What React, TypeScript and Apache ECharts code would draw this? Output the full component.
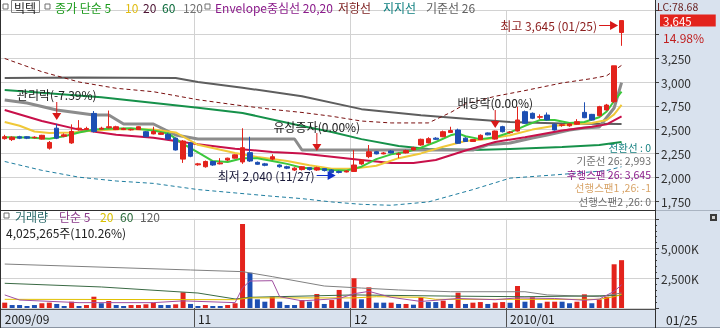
import React, { useEffect, useRef } from "react";
import * as echarts from "echarts";

// ---------- data ----------
const DATES = [
  "09/24","09/25","09/28","09/29","09/30",
  "10/01","10/05","10/06","10/07","10/08","10/09","10/12","10/13","10/14","10/15","10/16","10/19","10/20","10/21","10/22","10/23","10/26","10/27","10/28","10/29","10/30",
  "11/02","11/03","11/04","11/05","11/06","11/09","11/10","11/11","11/12","11/13","11/16","11/17","11/18","11/19","11/20","11/23","11/24","11/25","11/26","11/27","11/30",
  "12/01","12/02","12/03","12/04","12/07","12/08","12/09","12/10","12/11","12/14","12/15","12/16","12/17","12/18","12/21","12/22","12/23","12/24","12/28","12/29","12/30",
  "01/04","01/05","01/06","01/07","01/08","01/11","01/12","01/13","01/14","01/15","01/18","01/19","01/20","01/21","01/22","01/25",
];

const OPEN = [2405,2395,2425,2425,2415,2400,2305,2515,2430,2360,2500,2500,2670,2505,2520,2500,2500,2497,2500,2478,2455,2450,2450,2410,2190,2360,
  2130,2110,2165,2140,2180,2200,2160,2258,2156,2140,2190,2128,2110,2075,2080,2100,2075,2090,2076,2060,2055,
  2060,2139,2216,2268,2245,2275,2240,2255,2286,2338,2360,2410,2425,2470,2496,2410,2375,2395,2465,2400,2531,
  2468,2485,2688,2671,2630,2653,2556,2545,2540,2556,2681,2660,2646,2706,2793,3520];
const CLOSE = [2425,2420,2410,2410,2420,2440,2365,2410,2445,2480,2515,2512,2480,2515,2530,2530,2512,2503,2530,2425,2480,2465,2400,2286,2380,2220,
  2140,2165,2128,2150,2200,2235,2310,2170,2136,2125,2215,2110,2095,2095,2110,2080,2100,2070,2050,2050,2065,
  2128,2181,2268,2245,2255,2255,2245,2280,2310,2398,2405,2398,2478,2490,2356,2375,2395,2440,2445,2485,2478,
  2475,2601,2566,2619,2636,2601,2496,2550,2560,2583,2625,2601,2741,2758,3170,3645];
const LOW = [2395,2380,2400,2400,2405,2395,2290,2400,2420,2350,2490,2495,2470,2500,2510,2495,2495,2490,2495,2420,2450,2445,2390,2280,2150,2210,
  2120,2100,2120,2135,2170,2195,2140,2160,2130,2115,2180,2100,2085,2065,2070,2070,2065,2060,2045,2040,2050,
  2055,2130,2200,2240,2240,2250,2200,2250,2280,2330,2355,2390,2420,2465,2350,2370,2370,2390,2440,2395,2470,
  2460,2480,2560,2610,2610,2595,2490,2530,2530,2550,2620,2595,2640,2700,2780,3380];
const HIGH = [2445,2430,2435,2430,2430,2445,2380,2560,2460,2555,2600,2530,2695,2530,2700,2540,2520,2510,2535,2485,2530,2470,2465,2415,2390,2365,
  2150,2175,2170,2200,2205,2240,2514,2425,2165,2150,2240,2135,2120,2105,2115,2105,2110,2095,2085,2070,2075,
  2286,2190,2338,2275,2265,2285,2260,2290,2320,2405,2420,2420,2490,2530,2510,2420,2400,2450,2470,2490,2540,
  2485,2741,2700,2680,2660,2680,2565,2560,2565,2610,2787,2665,2750,2770,3170,3645];

const VOLUME = [450e3,250e3,250e3,170e3,250e3,400e3,450e3,340e3,170e3,530e3,170e3,250e3,950e3,400e3,590e3,250e3,170e3,250e3,250e3,310e3,450e3,250e3,250e3,310e3,1320e3,340e3,
  170e3,250e3,170e3,170e3,250e3,400e3,7070e3,2970e3,730e3,530e3,950e3,530e3,250e3,250e3,670e3,530e3,1180e3,340e3,670e3,1520e3,530e3,
  2500e3,730e3,1740e3,450e3,450e3,450e3,340e3,340e3,280e3,900e3,500e3,500e3,620e3,340e3,1290e3,340e3,450e3,500e3,340e3,450e3,500e3,
  450e3,1850e3,530e3,900e3,400e3,530e3,530e3,530e3,400e3,530e3,1150e3,400e3,730e3,950e3,3680e3,4025265];
const VOL_UP = [1,0,0,0,0,1,1,0,0,1,0,1,1,0,1,0,0,1,1,1,1,0,0,1,1,0,
  0,1,0,0,1,1,1,0,0,0,1,0,0,0,1,0,1,0,1,1,0,
  1,0,1,0,0,1,0,1,0,1,0,0,1,0,1,0,1,1,0,1,1,
  0,1,0,1,0,1,1,0,0,1,1,0,1,1,1,1];

// moving-average / indicator lines: [slot index, value] points
const MA5_PTS = [[0,2420],[3,2418],[6,2405],[8,2430],[10,2470],[12,2500],[14,2510],[17,2515],[20,2490],[22,2460],[24,2350],[26,2260],[28,2170],[30,2160],[32,2200],[34,2200],[36,2170],[38,2140],[40,2100],[42,2090],[44,2075],[46,2070],[48,2110],[50,2190],[52,2240],[54,2265],[56,2310],[58,2370],[60,2440],[61,2460],[62,2430],[64,2400],[66,2420],[68,2470],[70,2540],[72,2600],[74,2600],[76,2570],[78,2580],[80,2630],[81,2690],[82,2800],[83,2900]];
const MA10_PTS = [[0,2580],[2,2540],[4,2480],[6,2465],[9,2470],[12,2490],[16,2505],[20,2500],[23,2470],[26,2340],[31,2255],[34,2212],[38,2170],[41,2125],[44,2090],[47,2090],[50,2120],[53,2200],[56,2250],[59,2320],[62,2380],[65,2400],[68,2440],[71,2500],[74,2540],[77,2560],[79,2570],[81,2600],[82,2660],[83,2760]];
const MA20_PTS = [[0,2706],[5,2590],[10,2500],[15,2445],[20,2415],[26,2345],[31,2300],[36,2265],[40,2250],[44,2215],[48,2180],[52,2150],[55,2150],[58,2180],[62,2280],[66,2370],[70,2420],[75,2490],[79,2530],[81,2555],[83,2640]];
const MA60_PTS = [[0,2916],[13,2840],[26,2730],[32,2675],[40,2538],[44,2475],[48,2400],[53,2328],[57,2296],[63,2286],[68,2296],[75,2317],[80,2338],[83,2370]];
const MA120_PTS = [[0,3042],[10,3048],[23,3042],[26,3000],[32,2940],[40,2850],[48,2715],[56,2650],[62,2615],[68,2580],[75,2565],[83,2560]];
const ENV_UP_PTS = [[0,3247],[5,3108],[10,3000],[15,2934],[20,2898],[26,2814],[31,2760],[36,2712],[40,2680],[44,2640],[48,2590],[52,2570],[57,2570],[60,2680],[62,2770],[66,2850],[70,2910],[75,2990],[79,3036],[81,3066],[83,3175]];
const ENV_DN_PTS = [[0,2165],[5,2072],[10,2000],[15,1960],[20,1935],[26,1870],[31,1835],[36,1800],[40,1775],[44,1740],[48,1715],[52,1705],[57,1740],[63,1870],[68,1990],[75,2030],[81,2070],[83,2110]];
const KIJUN_PTS = [[0,2811],[3,2780],[7,2706],[12,2653],[14,2653],[16,2559],[20,2559],[23,2443],[26,2401],[39,2401],[40,2286],[63,2286],[65,2340],[68,2360],[71,2412],[73,2443],[76,2496],[78,2517],[80,2527],[82,2727],[83,2993]];

const VMA5_PTS = [[0,1100e3],[2,670e3],[10,450e3],[20,450e3],[24,600e3],[31,450e3],[32,1700e3],[33,2270e3],[36,2300e3],[37,950e3],[40,600e3],[45,800e3],[47,1200e3],[49,1400e3],[52,900e3],[56,550e3],[61,800e3],[66,700e3],[69,850e3],[74,800e3],[78,650e3],[80,750e3],[82,1400e3],[83,1950e3]];
const VMA20_PTS = [[0,730e3],[31,700e3],[33,850e3],[47,850e3],[50,950e3],[56,900e3],[58,730e3],[80,730e3],[82,950e3],[83,1150e3]];
const VMA60_PTS = [[0,2080e3],[13,1770e3],[26,1260e3],[31,760e3],[33,900e3],[40,1000e3],[47,1100e3],[60,1000e3],[70,950e3],[83,1050e3]];
const VMA120_PTS = [[0,3700e3],[25,3200e3],[32,3060e3],[36,2640e3],[43,1850e3],[48,1680e3],[53,1520e3],[60,1370e3],[70,1370e3],[73,1100e3],[80,950e3],[83,1260e3]];

const EVENTS = [
  { date: "10/06", value: 2601, label: "관리락(-7.39%)" },
  { date: "11/24", value: 2275, label: "유상증자(0.00%)" },
  { date: "12/29", value: 2517, label: "배당락(0.00%)" },
];
const LOW_MARK = { date: "11/27", value: 2040, label: "최저 2,040 (11/27)" };
const HIGH_MARK = { date: "01/25", value: 3645, label: "최고 3,645 (01/25)" };
const CHANGE_PCT = "14.98%";

const MONTH_TICKS: [string, string][] = [["09/24", "2009/09"], ["11/02", "11"], ["12/01", "12"], ["01/04", "2010/01"]];
const PRICE_TICK = { min: 1750, max: 3750, step: 250 };
const VOL_TICK = { min: 0, max: 7500000, step: 2500000 };

const IND_LEGEND = [
  { text: "전환선 : 0", color: "#168080" },
  { text: "기준선 26: 2,993", color: "#6e6e6e" },
  { text: "후행스팬 26: 3,645", color: "#8a1a8a" },
  { text: "선행스팬1 ,26: -1", color: "#d8a468" },
  { text: "선행스팬2 ,26: 0", color: "#6e6e6e" },
];

// ---------- styling ----------
const RED = "#e3231c";
const BLUE = "#1d4fb3";
const FONT = '"Noto Sans CJK KR", "Noto Sans", sans-serif';
const PAD = 4;

function sparse(points: number[][], n: number) {
  const out: (number | null)[] = new Array(n).fill(null);
  for (const [i, v] of points) out[i] = v;
  return out;
}
const fmt = (v: number) => v.toLocaleString("en-US");

export default function App() {
  const ref = useRef<HTMLDivElement>(null);
  useEffect(() => {
    if (!ref.current) return;
    const chart = echarts.init(ref.current, undefined, { renderer: "svg" });
    const N = DATES.length + PAD;
    const CATS = [...DATES, ...Array.from({ length: PAD }, (_, i) => `pad${i}`)];
    const monthIdx = MONTH_TICKS.map(([d]) => DATES.indexOf(d));
    const monthLabel = (i: number) => {
      const k = monthIdx.indexOf(i);
      return k >= 0 ? MONTH_TICKS[k][1] : "";
    };
    const last = CLOSE.length - 1;

    const line = (pts: number[][], color: string, width: number, extra: any = {}) => ({
      type: "line",
      xAxisIndex: 0,
      yAxisIndex: 0,
      data: sparse(pts, N),
      connectNulls: true,
      showSymbol: false,
      symbol: "none",
      silent: true,
      lineStyle: { color, width },
      z: 2,
      ...extra,
    });
    const vline = (pts: number[][], color: string) => ({
      type: "line",
      xAxisIndex: 1,
      yAxisIndex: 1,
      data: sparse(pts, N),
      connectNulls: true,
      showSymbol: false,
      symbol: "none",
      silent: true,
      lineStyle: { color, width: 1 },
      z: 3,
    });

    const txt = (x: number, y: number, text: string, fill: string, align = "left", size = 12) => ({
      type: "text",
      x,
      y,
      silent: true,
      z: 50,
      style: { text, fill, fontSize: size, lineHeight: size, fontFamily: FONT, align, verticalAlign: "middle" },
    });
    const hline = (x1: number, x2: number, y: number, stroke: string) => ({
      type: "line", silent: true, z: 40,
      shape: { x1, y1: y, x2, y2: y }, style: { stroke, lineWidth: 1 },
    });
    const vl = (x: number, y1: number, y2: number, stroke: string) => ({
      type: "line", silent: true, z: 40,
      shape: { x1: x, y1, x2: x, y2 }, style: { stroke, lineWidth: 1 },
    });
    const box = (x: number, y: number) => ({
      type: "rect", silent: true, z: 50,
      shape: { x, y, width: 5, height: 5 }, style: { fill: "#fff", stroke: "#707070", lineWidth: 1 },
    });

    const graphic: any[] = [
      { type: "rect", silent: true, z: -100, shape: { x: 0, y: 0, width: 720, height: 328 }, style: { fill: "#d9e2ee" } },
      { type: "rect", silent: true, z: -99, shape: { x: 0, y: 0, width: 655, height: 210 }, style: { fill: "#ffffff" } },
      { type: "rect", silent: true, z: -99, shape: { x: 0, y: 211, width: 655, height: 99 }, style: { fill: "#ffffff" } },
      hline(0, 655, 210.5, "#303030"),
      hline(655, 720, 210.5, "#aab4c2"),
      hline(0, 655, 309.5, "#505050"),
      hline(0, 720, 327.5, "#8a94a2"),
      vl(655.5, 0, 328, "#303030"),
      vl(0.5, 0, 328, "#303030"),
      // top legend
      box(3, 4),
      { type: "rect", silent: true, z: 50, shape: { x: 11.5, y: 0.5, width: 28, height: 12 }, style: { fill: "none", stroke: "#808080", lineWidth: 1 } },
      txt(14, 7, "빅텍", "#202020"),
      box(45, 4),
      txt(55, 7, "종가 단순 5", "#1a9a1a"),
      txt(125, 7, "10", "#e0bc10"),
      txt(143, 7, "20", "#4a1030"),
      txt(162, 7, "60", "#0a6a3a"),
      txt(183, 7, "120", "#707070"),
      box(205, 4),
      txt(215, 7, "Envelope중심선 20,20", "#8a1a8a"),
      txt(338, 7, "저항선", "#7a1a1a"),
      txt(383, 7, "지지선", "#108080"),
      txt(426, 7, "기준선 26", "#606060"),
      // right column texts
      txt(657, 6.2, "LC:78.68", "#6a2020", "left", 10.5),
      txt(663, 37, CHANGE_PCT, "#c02020"),
      txt(666, 319, "01/25", "#202020"),
      // indicator legend (bottom-right of price panel)
      ...IND_LEGEND.map((d, i) => txt(651, 147 + i * 13.6, d.text, d.color, "right", 10.5)),
      // volume legend
      box(4, 213),
      txt(15, 216, "거래량", "#2a6a6a"),
      txt(59, 216, "단순 5", "#8a3a8a"),
      txt(100, 216, "20", "#d8c000"),
      txt(120, 216, "60", "#2a6a3a"),
      txt(140, 216, "120", "#606060"),
      txt(6, 232, "4,025,265주(110.26%)", "#202020"),
      { type: "rect", silent: true, z: 50, shape: { x: 710, y: 214, width: 7, height: 7 }, style: { fill: "#3a3a3a" } },
      { type: "rect", silent: true, z: 51, shape: { x: 712, y: 216, width: 3, height: 3 }, style: { fill: "#d0d0d0" } },
    ];

    const labelStyle = { fontSize: 12, fontFamily: FONT };
    const EVENT_SYMBOL = "path://M4,0L5,0L5,11L4,11Z M0,11L9,11L4.5,18Z";
    const ARROW_SYMBOL = "path://M0,4L12,4L12,5L0,5Z M11,0L19,4.5L11,9Z";

    const option: any = {
      animation: false,
      graphic,
      grid: [
        { left: 1, right: 65, top: 10.6, height: 190.4 },
        { left: 1, right: 65, top: 218.9, height: 89.1 },
      ],
      xAxis: [
        {
          type: "category", gridIndex: 0, data: CATS, boundaryGap: true,
          axisLine: { show: false }, axisTick: { show: false }, axisLabel: { show: false },
          splitLine: { show: true, interval: (i: number) => i > 0 && monthIdx.includes(i), lineStyle: { color: "#d2d2d2" } },
        },
        {
          type: "category", gridIndex: 1, data: CATS, boundaryGap: true,
          axisLine: { show: false },
          axisTick: { show: true, length: 20, interval: (i: number) => i > 0 && monthIdx.includes(i), lineStyle: { color: "#505050" } },
          axisLabel: {
            show: true, interval: (i: number) => monthIdx.includes(i),
            formatter: (_v: string, i: number) => monthLabel(i),
            align: "left", margin: 4, color: "#202020", ...labelStyle,
          },
          splitLine: { show: true, interval: (i: number) => i > 0 && monthIdx.includes(i), lineStyle: { color: "#d2d2d2" } },
        },
      ],
      yAxis: [
        {
          type: "value", gridIndex: 0, position: "right",
          min: PRICE_TICK.min, max: PRICE_TICK.max, interval: PRICE_TICK.step,
          axisLine: { show: false },
          axisTick: { show: true, length: 4, lineStyle: { color: "#404040" } },
          axisLabel: { margin: 6, color: "#303030", ...labelStyle, formatter: (v: number) => (v >= 3500 ? "" : fmt(v)) },
          splitLine: { show: true, lineStyle: { color: "#d2d2d2" } },
        },
        {
          type: "value", gridIndex: 1, position: "right",
          min: VOL_TICK.min, max: VOL_TICK.max, interval: VOL_TICK.step,
          axisLine: { show: false },
          axisTick: { show: true, length: 4, lineStyle: { color: "#404040" } },
          minorTick: { show: true, splitNumber: 5, length: 2, lineStyle: { color: "#404040" } },
          axisLabel: {
            margin: 6, color: "#303030", ...labelStyle,
            formatter: (v: number) => (v === 0 || v >= VOL_TICK.max ? "" : `${fmt(v / 1000)}K`),
          },
          splitLine: { show: true, lineStyle: { color: "#d2d2d2" } },
        },
      ],
      series: [
        line(MA120_PTS, "#5e5e5e", 2),
        line(MA60_PTS, "#16914a", 2),
        line(ENV_UP_PTS, "#7a1010", 1, { lineStyle: { color: "#7a1010", width: 1, type: [4, 3] } }),
        line(ENV_DN_PTS, "#1f7ea0", 1, { clip: false, lineStyle: { color: "#1f7ea0", width: 1, type: [4, 3] } }),
        line(KIJUN_PTS, "#8c8c8c", 3),
        line(MA20_PTS, "#c8104a", 2),
        line(MA10_PTS, "#f0c838", 2),
        line(MA5_PTS, "#3cc83c", 2),
        {
          type: "candlestick",
          xAxisIndex: 0, yAxisIndex: 0,
          barWidth: 5,
          z: 4,
          data: OPEN.map((o, i) => [o, CLOSE[i], LOW[i], HIGH[i]]),
          itemStyle: { color: RED, color0: BLUE, borderColor: RED, borderColor0: BLUE, borderWidth: 1 },
          markLine: {
            silent: true, symbol: "none",
            lineStyle: { color: "rgba(0,0,0,0)", width: 1, opacity: 1 },
            label: {
              show: true, position: "end", distance: 5,
              formatter: () => fmt(CLOSE[last]),
              backgroundColor: RED, color: "#ffffff", opacity: 1, padding: [0, 24, 0, 3],
              lineHeight: 12, fontSize: 11.5, fontFamily: FONT,
            },
            data: [{ yAxis: CLOSE[last] }],
          },
          markPoint: {
            silent: true,
            data: [
              ...EVENTS.map((e) => ({
                coord: [e.date, e.value],
                symbol: EVENT_SYMBOL, symbolSize: [9, 18], symbolOffset: [0, -9],
                itemStyle: { color: "#d81818" },
                label: { show: true, position: "top", distance: 1, formatter: e.label, color: "#202020", ...labelStyle },
              })),
              {
                coord: [LOW_MARK.date, LOW_MARK.value],
                symbol: ARROW_SYMBOL, symbolSize: [19, 9], symbolOffset: [-13, 2],
                itemStyle: { color: "#1030c8" },
                label: { show: true, position: "left", distance: 2, formatter: LOW_MARK.label, color: "#1a1a3a", ...labelStyle },
              },
              {
                coord: [HIGH_MARK.date, HIGH_MARK.value],
                symbol: ARROW_SYMBOL, symbolSize: [19, 9], symbolOffset: [-13, 5],
                itemStyle: { color: "#d81818" },
                label: { show: true, position: "left", distance: 2, formatter: HIGH_MARK.label, color: "#8b1c1c", ...labelStyle },
              },
            ],
          },
        },
        {
          type: "bar",
          xAxisIndex: 1, yAxisIndex: 1,
          barWidth: 5,
          silent: true,
          z: 2,
          data: VOLUME.map((v, i) => ({ value: v, itemStyle: { color: VOL_UP[i] ? RED : BLUE } })),
        },
        vline(VMA120_PTS, "#808080"),
        vline(VMA60_PTS, "#3a6a44"),
        vline(VMA20_PTS, "#e0c000"),
        vline(VMA5_PTS, "#a050a0"),
      ],
    };
    chart.setOption(option);
    return () => chart.dispose();
  }, []);
  return <div ref={ref} style={{ position: "fixed", left: 0, top: 0, width: 720, height: 328 }} />;
}
